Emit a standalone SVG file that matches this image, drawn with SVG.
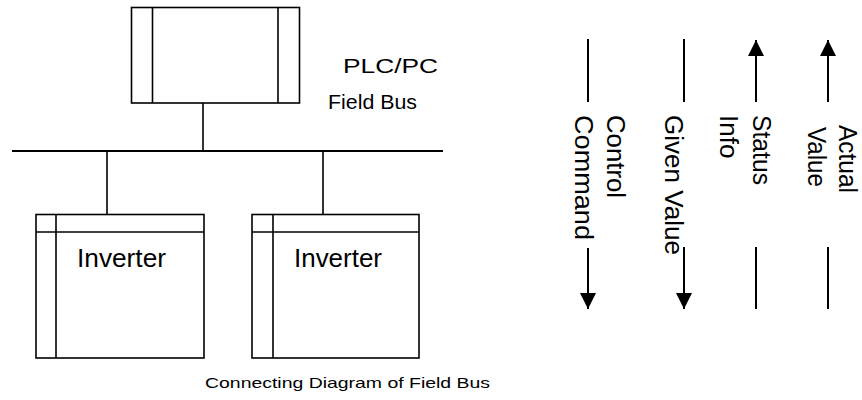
<svg xmlns="http://www.w3.org/2000/svg" width="862" height="400" viewBox="0 0 862 400">
<style>
  .box{fill:#fff;stroke:#000;stroke-width:1.6}
  .ln{stroke:#000;stroke-width:1.6;fill:none}
  .bus{stroke:#000;stroke-width:2;fill:none}
  .sig{stroke:#000;stroke-width:2;fill:none}
  text{font-family:"Liberation Sans",Arial,sans-serif;fill:#000}
  .lbl{font-size:21px}
  .inv{font-size:25px}
  .rot{font-size:26px}
  .rot2{font-size:25px}
  .cap{font-size:15px}
</style>
<defs>
  <marker id="ah" markerUnits="userSpaceOnUse" markerWidth="16" markerHeight="16" refX="16" refY="8" orient="auto">
    <path d="M0,0 L16,8 L0,16 z" fill="#000"/>
  </marker>
</defs>
<g id="connectors">
  <line class="ln" x1="203" y1="103" x2="203" y2="151"/>
  <line class="bus" x1="12" y1="151" x2="443" y2="151"/>
  <line class="ln" x1="107" y1="151" x2="107" y2="214.5"/>
  <line class="ln" x1="323" y1="151" x2="323" y2="214.5"/>
</g>
<g id="plc">
  <rect class="box" x="131.5" y="7.5" width="168" height="95.5"/>
  <line class="ln" x1="152.5" y1="7.5" x2="152.5" y2="103"/>
  <line class="ln" x1="278" y1="7.5" x2="278" y2="103"/>
  <text class="lbl" x="343" y="73" textLength="95" lengthAdjust="spacingAndGlyphs">PLC/PC</text>
  <text class="lbl" x="328" y="109" textLength="89" lengthAdjust="spacingAndGlyphs">Field Bus</text>
</g>
<g id="inverter1">
  <rect class="box" x="36" y="214.5" width="168" height="143.5"/>
  <line class="ln" x1="56" y1="214.5" x2="56" y2="358"/>
  <line class="ln" x1="36" y1="232" x2="204" y2="232"/>
  <text class="inv" x="77" y="267" textLength="89" lengthAdjust="spacingAndGlyphs">Inverter</text>
</g>
<g id="inverter2">
  <rect class="box" x="252" y="214.5" width="167" height="143.5"/>
  <line class="ln" x1="273" y1="214.5" x2="273" y2="358"/>
  <line class="ln" x1="252" y1="232" x2="419" y2="232"/>
  <text class="inv" x="294" y="267" textLength="88" lengthAdjust="spacingAndGlyphs">Inverter</text>
</g>
<g id="signals">
  <line class="sig" x1="588" y1="39" x2="588" y2="102"/>
  <line class="sig" x1="588" y1="248" x2="588" y2="309" marker-end="url(#ah)"/>
  <line class="sig" x1="684" y1="39" x2="684" y2="102"/>
  <line class="sig" x1="684" y1="247" x2="684" y2="309" marker-end="url(#ah)"/>
  <line class="sig" x1="756" y1="102" x2="756" y2="40" marker-end="url(#ah)"/>
  <line class="sig" x1="756" y1="247" x2="756" y2="309"/>
  <line class="sig" x1="828" y1="102" x2="828" y2="40" marker-end="url(#ah)"/>
  <line class="sig" x1="828" y1="247" x2="828" y2="309"/>
</g>
<g id="signal-labels">
  <g transform="translate(607,115) rotate(90)">
    <text class="rot" x="0" y="0" textLength="83" lengthAdjust="spacingAndGlyphs">Control</text>
    <text class="rot" x="0" y="32" textLength="125" lengthAdjust="spacingAndGlyphs">Command</text>
  </g>
  <g transform="translate(665,115) rotate(90)">
    <text class="rot" x="0" y="0" textLength="140" lengthAdjust="spacingAndGlyphs">Given Value</text>
  </g>
  <g transform="translate(753,115) rotate(90)">
    <text class="rot" x="0" y="0" textLength="70" lengthAdjust="spacingAndGlyphs">Status</text>
    <text class="rot" x="0" y="33">Info</text>
  </g>
  <g transform="translate(839,0) rotate(90)">
    <text class="rot2" x="125" y="0" textLength="68" lengthAdjust="spacingAndGlyphs">Actual</text>
    <text class="rot2" x="127" y="31" textLength="60" lengthAdjust="spacingAndGlyphs">Value</text>
  </g>
</g>
<text class="cap" x="205" y="388" textLength="285" lengthAdjust="spacingAndGlyphs">Connecting Diagram of Field Bus</text>
</svg>
